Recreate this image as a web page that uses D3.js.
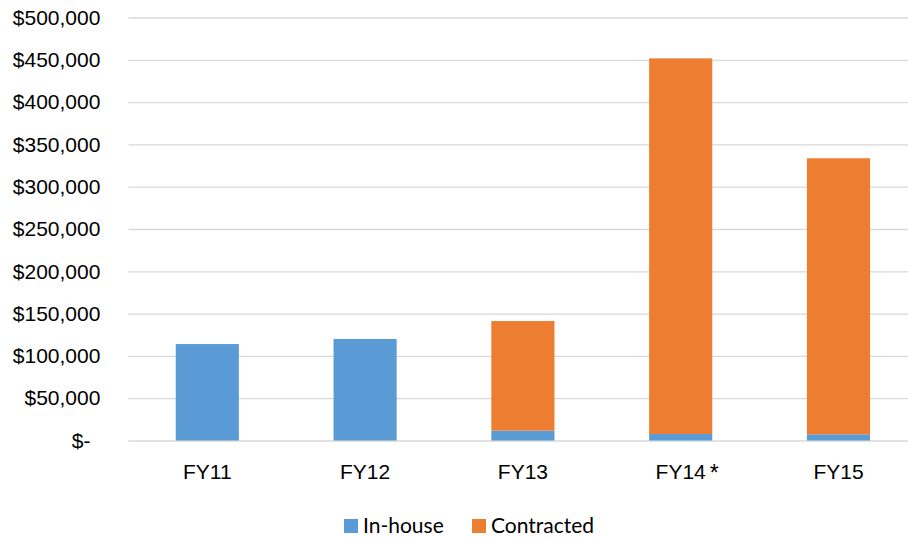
<!DOCTYPE html>
<html>
<head>
<meta charset="utf-8">
<script src="https://cdn.jsdelivr.net/npm/d3@7/dist/d3.min.js"></script>
<style>
  html, body { margin: 0; padding: 0; background: #fff; }
  svg { display: block; font-family: Lato, "Open Sans", sans-serif; }
</style>
</head>
<body>
<div id="chart"></div>
<script>
// Annual spend by delivery type
const categories = ["FY11", "FY12", "FY13", "FY14", "FY15"];
const inHouse    = [114000, 120000, 11600, 7700, 7300];
const contracted = [0, 0, 129600, 444000, 326300];
const footnotes  = { "FY14": "*" };
const yTicks     = [0, 50000, 100000, 150000, 200000, 250000, 300000, 350000, 400000, 450000, 500000];
const seriesNames  = ["In-house", "Contracted"];
const seriesColors = ["#5B9BD5", "#ED7D31"];

const W = 908, H = 538;
const plot = { left: 128.4, right: 917.4, top: 17.5, bottom: 440.5 };
const fontSize = 21;

const svg = d3.select("#chart").append("svg")
  .attr("width", W).attr("height", H);

const x = d3.scaleBand()
  .domain(categories)
  .range([plot.left, plot.right])
  .paddingInner(0.6)
  .paddingOuter(0.3);

const y = d3.scaleLinear()
  .domain([0, 500000])
  .range([plot.bottom, plot.top]);

const money = d3.format(",");
const fmt = v => v === 0 ? "$-" : "$" + money(v);

// horizontal gridlines with the value axis labels
const yAxis = svg.append("g")
  .attr("transform", `translate(${plot.left},0)`)
  .call(d3.axisLeft(y)
    .tickValues(yTicks)
    .tickFormat(fmt)
    .tickSize(-(plot.right - plot.left))
    .tickPadding(28));
yAxis.select(".domain").remove();
yAxis.selectAll(".tick line")
  .attr("stroke", "#D9D9D9")
  .attr("stroke-width", 1.3);
yAxis.selectAll(".tick text")
  .attr("fill", "#000")
  .attr("font-size", fontSize)
  .attr("dx", d => d === 0 ? -10 : 0);

// stacked columns
const stackData = categories.map((c, i) => ({ cat: c, "In-house": inHouse[i], "Contracted": contracted[i] }));
const stacked = d3.stack().keys(seriesNames)(stackData);

svg.append("g").selectAll("g")
  .data(stacked)
  .join("g")
    .attr("fill", (d, i) => seriesColors[i])
  .selectAll("rect")
  .data(d => d)
  .join("rect")
    .attr("x", d => x(d.data.cat))
    .attr("width", x.bandwidth())
    .attr("y", d => y(d[1]))
    .attr("height", d => y(d[0]) - y(d[1]));

// category axis labels
const xAxis = svg.append("g")
  .attr("transform", `translate(0,${plot.bottom})`)
  .call(d3.axisBottom(x).tickSize(0).tickPadding(24));
xAxis.select(".domain").remove();
xAxis.selectAll(".tick text")
  .attr("fill", "#000")
  .attr("font-size", fontSize);

// footnote markers placed just after their category label
xAxis.selectAll(".tick").each(function(d) {
  if (!footnotes[d]) return;
  const t = d3.select(this).select("text");
  const w = t.node().getComputedTextLength();
  d3.select(this).append("text")
    .attr("x", w / 2 + 4)
    .attr("y", t.attr("y"))
    .attr("dy", t.attr("dy"))
    .attr("text-anchor", "start")
    .attr("fill", "#000")
    .attr("font-size", fontSize + 2)
    .text(footnotes[d]);
});

// legend
const legend = svg.append("g").attr("transform", "translate(344,519)");
const items = legend.selectAll("g")
  .data(seriesNames)
  .join("g")
    .attr("transform", (d, i) => `translate(${i === 0 ? 0 : 128},0)`);
items.append("rect")
  .attr("width", 14).attr("height", 14)
  .attr("fill", (d, i) => seriesColors[i]);
items.append("text")
  .attr("x", 19).attr("y", 14)
  .attr("fill", "#000")
  .attr("font-size", fontSize)
  .text(d => d);
</script>
</body>
</html>
